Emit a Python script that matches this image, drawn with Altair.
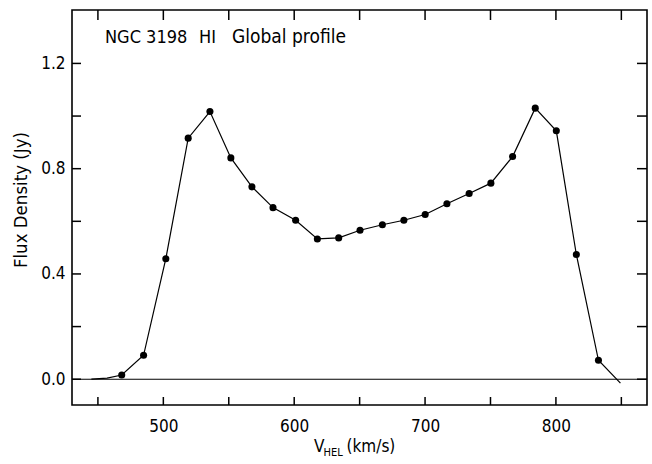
import altair as alt
import pandas as pd

# ---- data ----
vel = [468.2, 484.9, 501.9, 519.0, 535.6, 551.6, 567.7, 583.8, 601.1, 617.7,
       634.0, 650.3, 667.4, 683.8, 700.1, 716.7, 733.7, 750.3, 766.9, 784.2,
       800.3, 815.6, 832.5]
flux = [0.016, 0.091, 0.458, 0.916, 1.017, 0.841, 0.731, 0.652, 0.604, 0.533,
        0.537, 0.566, 0.587, 0.604, 0.626, 0.667, 0.706, 0.745, 0.846, 1.030,
        0.944, 0.474, 0.072]
# unmarked ends of the profile line
head_vel = [445.0, 457.0]
head_flux = [0.0, 0.004]
tail_vel = [849.3]
tail_flux = [-0.015]

x_ticks = [450, 500, 550, 600, 650, 700, 750, 800, 850]
y_ticks = [0.0, 0.2, 0.4, 0.6, 0.8, 1.0, 1.2]

title_parts = ["NGC 3198", "HI", "Global profile"]
y_title = "Flux Density (Jy)"
x_title_main = "V"
x_title_sub = "HEL"
x_title_unit = "(km/s)"

FONT = "Liberation Sans Narrow, DejaVu Sans Condensed, Liberation Sans"

pts = pd.DataFrame({"v": vel, "f": flux})
line_df = pd.DataFrame({"v": head_vel + vel + tail_vel,
                        "f": head_flux + flux + tail_flux})
xt = pd.DataFrame({"t": x_ticks})
yt = pd.DataFrame({"t": y_ticks})

W, H = 575, 395
xs = alt.Scale(domain=[430.2, 869.6], nice=False, zero=False)
ys = alt.Scale(domain=[-0.098, 1.403], nice=False, zero=False)

bottom_axis = alt.Axis(values=x_ticks, orient="bottom", ticks=False,
                       domain=False, grid=False,
                       labelExpr="datum.value % 100 == 0 ? datum.label : ''",
                       labelPadding=13, labelFont=FONT, labelFontSize=17,
                       labelColor="black", title=None, labelFlush=False)
left_axis = alt.Axis(values=y_ticks, orient="left", ticks=False,
                     domain=False, grid=False,
                     labelExpr="round(datum.value*10) % 4 == 0 ? format(datum.value, '.1f') : ''",
                     labelPadding=7, labelFont=FONT, labelFontSize=17,
                     labelColor="black", title=None, labelFlush=False)

line = alt.Chart(line_df).mark_line(color="black", strokeWidth=1.2).encode(
    x=alt.X("v:Q", scale=xs, axis=bottom_axis),
    y=alt.Y("f:Q", scale=ys, axis=left_axis),
    order="v:Q",
)

# inward-pointing ticks on all four sides of the frame
tick_style = dict(color="black", strokeWidth=1.5)
ticks_bottom = alt.Chart(xt).mark_rule(**tick_style).encode(
    x=alt.X("t:Q", scale=xs, axis=None), y=alt.value(H), y2=alt.value(H - 8))
ticks_top = alt.Chart(xt).mark_rule(**tick_style).encode(
    x=alt.X("t:Q", scale=xs, axis=None), y=alt.value(0), y2=alt.value(10))
ticks_left = alt.Chart(yt).mark_rule(**tick_style).encode(
    y=alt.Y("t:Q", scale=ys, axis=None), x=alt.value(0), x2=alt.value(9))
ticks_right = alt.Chart(yt).mark_rule(**tick_style).encode(
    y=alt.Y("t:Q", scale=ys, axis=None), x=alt.value(W), x2=alt.value(W - 10))

zero = alt.Chart(pd.DataFrame({"z": [0.0]})).mark_rule(color="black", strokeWidth=1.1).encode(
    y=alt.Y("z:Q", scale=ys, axis=None)
)

dots = alt.Chart(pts).mark_circle(color="black", size=50, opacity=1).encode(
    x=alt.X("v:Q", scale=xs, axis=None),
    y=alt.Y("f:Q", scale=ys, axis=None),
)

def label(text, x, y, size, angle=0, align="left", baseline="alphabetic"):
    return alt.Chart(pd.DataFrame({"t": [text]})).mark_text(
        font=FONT, fontSize=size, color="black", align=align,
        baseline=baseline, angle=angle,
    ).encode(x=alt.value(x), y=alt.value(y), text="t:N")

texts = [
    label(title_parts[0], 33, 33, 18),
    label(title_parts[1], 127, 33, 18),
    label(title_parts[2], 160, 33, 19),
    label(y_title, -51, 190, 18.5, angle=270, align="center", baseline="middle"),
    label(x_title_main, 242, 442, 17),
    label(x_title_sub, 251.5, 446, 11),
    label(x_title_unit, 274.5, 442, 17),
]

chart = alt.layer(line, ticks_bottom, ticks_top, ticks_left, ticks_right,
                  zero, dots, *texts).resolve_axis(
    x="independent", y="independent"
).properties(
    width=W, height=H, autosize="none",
    padding={"left": 72, "top": 10, "right": 5, "bottom": 59},
    background="white",
).configure_view(stroke="black", strokeWidth=1.6)

chart.save("out.html", embed_options={"renderer": "svg", "actions": False})
